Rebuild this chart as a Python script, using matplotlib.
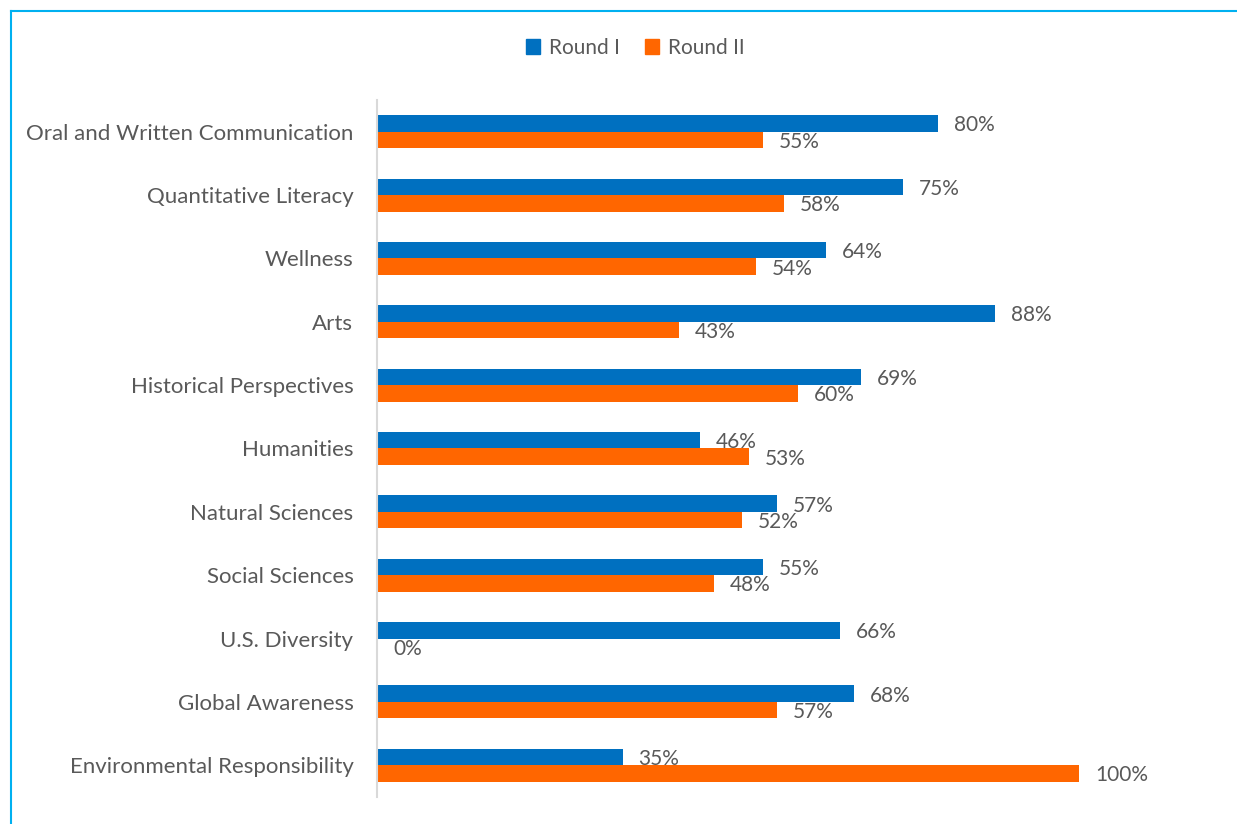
import numpy as np
import matplotlib.pyplot as plt
from matplotlib.lines import Line2D
from matplotlib.patches import Patch

plt.rcParams['font.family'] = ['Lato', 'DejaVu Sans']

categories = ['Oral and Written Communication', 'Quantitative Literacy', 'Wellness',
              'Arts', 'Historical Perspectives', 'Humanities', 'Natural Sciences',
              'Social Sciences', 'U.S. Diversity', 'Global Awareness',
              'Environmental Responsibility']
round1 = [80, 75, 64, 88, 69, 46, 57, 55, 66, 68, 35]
round2 = [55, 58, 54, 43, 60, 53, 52, 48, 0, 57, 100]

BLUE = '#0070C0'
ORANGE = '#FF6600'
GRAY = '#595959'

W, H = 1237, 824
fig = plt.figure(figsize=(W / 100, H / 100), dpi=100)

# axes box in pixels: left 377, right 1149 (0..110), top 100, bottom 797
ax = fig.add_axes([377 / W, 1 - 797 / H, (1149 - 377) / W, (797 - 100) / H])

y = np.arange(len(categories))
bh = 0.26
ax.barh(y - bh / 2, round1, height=bh, color=BLUE)
ax.barh(y + bh / 2, round2, height=bh, color=ORANGE)

for i in range(len(categories)):
    ax.annotate(f'{round1[i]}%', (round1[i], y[i] - bh / 2 + 0.03), xytext=(16, 0),
                textcoords='offset pixels', va='center', ha='left',
                fontsize=15, color=GRAY, clip_on=False)
    ax.annotate(f'{round2[i]}%', (round2[i], y[i] + bh / 2 + 0.03), xytext=(16, 0),
                textcoords='offset pixels', va='center', ha='left',
                fontsize=15, color=GRAY, clip_on=False)

ax.set_xlim(0, 110)
ax.set_ylim(len(categories) - 0.5, -0.5)
ax.set_yticks(y)
ax.set_yticklabels(categories, fontsize=16, color=GRAY)
ax.tick_params(axis='y', length=0, pad=17)
ax.set_xticks([])
for s in ['top', 'right', 'bottom']:
    ax.spines[s].set_visible(False)
ax.spines['left'].set_color('#D9D9D9')
ax.spines['left'].set_linewidth(1.5)

handles = [Patch(color=BLUE, label='Round I'), Patch(color=ORANGE, label='Round II')]
fig.legend(handles=handles, loc='center', bbox_to_anchor=(635 / W, 1 - 48 / H),
           ncol=2, frameon=False, fontsize=15, labelcolor=GRAY,
           handlelength=0.7, handleheight=0.7, handletextpad=0.4, columnspacing=1.2)

# chart border (top and left edges visible)
fig.add_artist(Line2D([11 / W, 1.0], [1 - 11 / H, 1 - 11 / H], color='#00B0F0', lw=1.5))
fig.add_artist(Line2D([11 / W, 11 / W], [0.0, 1 - 11 / H], color='#00B0F0', lw=1.5))

fig.savefig('out.png', dpi=100)
